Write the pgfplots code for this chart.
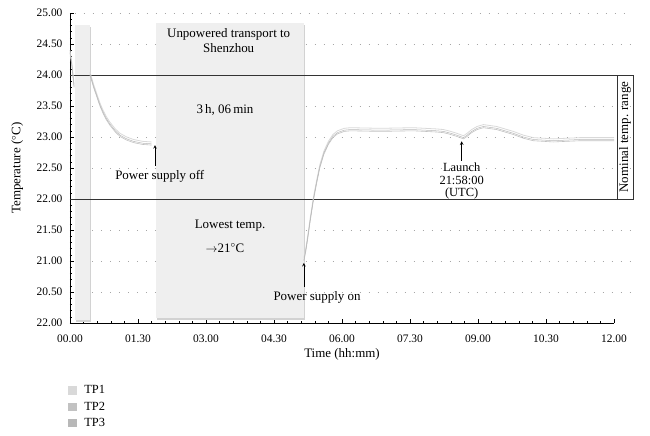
\documentclass[border=0pt]{standalone}
\usepackage{fontspec}
\setmainfont{Liberation Serif}
\usepackage{pgfplots}
\pgfplotsset{compat=1.18}
\definecolor{tpone}{HTML}{D9D9D9}
\definecolor{tptwo}{HTML}{C2C2C2}
\definecolor{tpthree}{HTML}{B8B8B8}
\definecolor{boxfill}{HTML}{EFEFEF}
\definecolor{boxshadow}{HTML}{D2D2D2}
\begin{document}
\begin{tikzpicture}[font=\fontsize{13}{14}\selectfont]
\path[use as bounding box] (-70bp,-113bp) rectangle (580bp,323bp);
\begin{axis}[
  at={(0,0)}, anchor=south west, scale only axis,
  width=544bp, height=310bp,
  xmin=0, xmax=12, ymin=20, ymax=25,
  axis x line=bottom, axis y line=left,
  axis line style={-, black, line width=0.6pt},
  xtick={0,1.5,3,4.5,6,7.5,9,10.5,12},
  xticklabels={00.00,01.30,03.00,04.30,06.00,07.30,09.00,10.30,12.00},
  minor x tick num=4,
  ytick={20,20.5,21,21.5,22,22.5,23,23.5,24,24.5,25},
  yticklabels={22.00,20.50,21.00,21.50,22.00,22.50,23.00,23.50,24.00,24.50,25.00},
  minor y tick num=4,
  tick align=inside, major tick length=4bp, minor tick length=2.5bp,
  tick style={black, line width=0.5pt},
  /pgf/number format/assume math mode=true,
  ticklabel style={font=\fontsize{11.5}{13}\selectfont},
  xticklabel style={yshift=-8bp},
  yticklabel style={xshift=-4bp},
  xlabel={Time (hh:mm)}, ylabel={Temperature ($^{\circ}$C)},
  every axis x label/.style={at={(axis description cs:0.5,-0.1)}, anchor=center},
  every axis y label/.style={at={(axis description cs:-0.097,0.5)}, rotate=90, anchor=center},
  clip=false,
  unbounded coords=jump,
  legend style={draw=none, fill=none, at={(axis description cs:-0.004,-0.195)}, anchor=north west, row sep=2.5bp, inner sep=0pt, font=\fontsize{12.5}{13.5}\selectfont,
    nodes={inner xsep=8bp}},
  legend cell align=left,
  legend image code/.code={\fill (-4bp,-3.8bp) rectangle (3.5bp,3.8bp);},
]
% grid
\pgfplotsinvokeforeach{20.5,21,21.5,22.5,23,23.5,24.5}{
  \draw[gray!70, line width=0.7pt, dash pattern=on 0.7bp off 8.3bp] (axis cs:0.48,#1) -- (axis cs:1.9,#1);
  \draw[gray!70, line width=0.7pt, dash pattern=on 0.7bp off 8.3bp] (axis cs:5.2,#1) -- (axis cs:12.35,#1);
}
\draw[gray!70, line width=0.7pt, dash pattern=on 0.7bp off 8.3bp] (axis cs:0.1,25) -- (axis cs:12.35,25);
% shaded boxes
\fill[boxshadow] (axis cs:0.14,20.02) rectangle (axis cs:0.47,24.78);
\fill[boxfill] (axis cs:0.11,20.05) rectangle (axis cs:0.44,24.81);
\fill[boxshadow] (axis cs:1.93,20.05) rectangle (axis cs:5.19,24.81);
\fill[boxfill] (axis cs:1.90,20.08) rectangle (axis cs:5.16,24.84);
% nominal range
\draw[black!80, line width=0.7pt] (axis cs:0,24) -- (axis cs:12.42,24);
\draw[black!80, line width=0.7pt] (axis cs:0,22) -- (axis cs:12.42,22);
\draw[black!80, line width=0.7pt] (axis cs:12.07,22) rectangle (axis cs:12.42,24);
\node[rotate=90] at (axis cs:12.245,23) {Nominal temp. range};
% curves
\addplot[tpone, line width=0.8pt] coordinates {
(0,24.40) (0.04,24.20) (0.09,23.85) (0.1,nan)
(0.44,24.05) (0.52,23.85) (0.59,23.70) (0.66,23.55) (0.73,23.43) (0.80,23.33) (0.88,23.24) (1.00,23.13) (1.10,23.06) (1.25,23.00) (1.40,22.96) (1.60,22.93) (1.80,22.92) (1.85,nan)
(5.16,21.05) (5.20,21.20) (5.24,21.39) (5.30,21.70) (5.37,22.03) (5.44,22.30) (5.51,22.55) (5.60,22.77) (5.70,22.93) (5.80,23.04) (5.90,23.10) (6.05,23.14) (6.18,23.15) (6.84,23.14) (7.57,23.15) (8.09,23.13) (8.24,23.12) (8.40,23.09) (8.53,23.06) (8.68,23.02) (8.76,23.06) (8.86,23.12) (8.98,23.17) (9.12,23.20) (9.41,23.17) (9.78,23.09) (10.00,23.03) (10.22,22.99) (10.66,22.97) (11.25,22.99) (12,22.99)
};
\addlegendentry{TP1}
\addplot[tptwo, line width=0.6pt] coordinates {
(0,24.35) (0.04,24.15) (0.09,23.80) (0.1,nan)
(0.44,24.00) (0.52,23.80) (0.59,23.65) (0.66,23.50) (0.73,23.38) (0.80,23.28) (0.88,23.19) (1.00,23.08) (1.10,23.01) (1.25,22.95) (1.40,22.91) (1.60,22.88) (1.80,22.87) (1.85,nan)
(5.16,21.00) (5.20,21.15) (5.24,21.34) (5.30,21.65) (5.37,21.98) (5.44,22.25) (5.51,22.50) (5.60,22.72) (5.70,22.88) (5.80,22.99) (5.90,23.05) (6.05,23.09) (6.18,23.10) (6.84,23.09) (7.57,23.10) (8.09,23.08) (8.24,23.07) (8.40,23.04) (8.53,23.01) (8.68,22.97) (8.76,23.01) (8.86,23.07) (8.98,23.12) (9.12,23.15) (9.41,23.12) (9.78,23.04) (10.00,22.98) (10.22,22.94) (10.66,22.92) (11.25,22.94) (12,22.94)
};
\addlegendentry{TP2}
\addplot[tpthree, line width=0.5pt] coordinates {
(0,24.37) (0.04,24.17) (0.09,23.82) (0.1,nan)
(0.44,24.02) (0.52,23.82) (0.59,23.67) (0.66,23.52) (0.73,23.40) (0.80,23.30) (0.88,23.21) (1.00,23.10) (1.10,23.03) (1.25,22.97) (1.40,22.93) (1.60,22.90) (1.80,22.89) (1.85,nan)
(5.16,21.02) (5.20,21.17) (5.24,21.36) (5.30,21.67) (5.37,22.00) (5.44,22.27) (5.51,22.52) (5.60,22.74) (5.70,22.90) (5.80,23.01) (5.90,23.07) (6.05,23.11) (6.18,23.12) (6.84,23.11) (7.57,23.12) (8.09,23.10) (8.24,23.09) (8.40,23.06) (8.53,23.03) (8.68,22.99) (8.76,23.03) (8.86,23.09) (8.98,23.14) (9.12,23.17) (9.41,23.14) (9.78,23.06) (10.00,23.00) (10.22,22.96) (10.66,22.94) (11.25,22.96) (12,22.96)
};
\addlegendentry{TP3}
% annotations
\node[align=center, font=\fontsize{13}{15}\selectfont] at (axis cs:3.5,24.56) {Unpowered transport to\\Shenzhou};
\node at (axis cs:3.42,23.44) {3\,h, 06\,min};
\node at (axis cs:3.53,21.57) {Lowest temp.};
\node at (axis cs:3.42,21.21) {$\rightarrow$21$^{\circ}$C};
\draw[->, line width=0.6pt, >=stealth] (axis cs:1.875,22.53) -- (axis cs:1.875,22.87);
\node at (axis cs:1.98,22.36) {Power supply off};
\draw[->, line width=0.6pt, >=stealth] (axis cs:5.16,20.58) -- (axis cs:5.16,20.97);
\node at (axis cs:5.45,20.42) {Power supply on};
\draw[->, line width=0.6pt, >=stealth] (axis cs:8.64,22.62) -- (axis cs:8.64,22.93);
\node[align=center, font=\fontsize{12.5}{13}\selectfont] at (axis cs:8.64,22.29) {Launch\\21:58:00\\(UTC)};
\end{axis}
\end{tikzpicture}
\end{document}
